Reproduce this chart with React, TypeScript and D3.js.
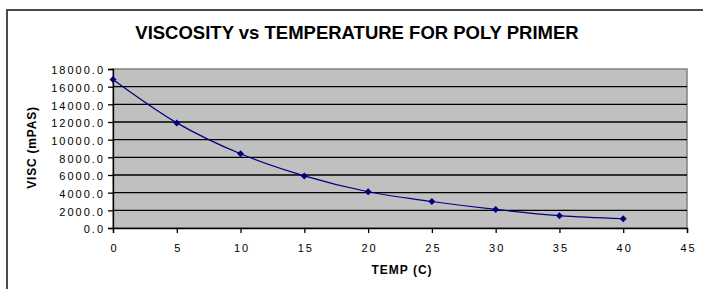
import { useEffect, useRef } from 'react';
import * as d3 from 'd3';

// data
const temps = [0, 5, 10, 15, 20, 25, 30, 35, 40];
const viscosity = [16800, 11900, 8400, 5900, 4100, 3000, 2100, 1400, 1050];
const xTicks = [0, 5, 10, 15, 20, 25, 30, 35, 40, 45];
const yTicks = [0, 2000, 4000, 6000, 8000, 10000, 12000, 14000, 16000, 18000];

const W = 703;
const H = 289;

export default function App() {
  const svgRef = useRef<SVGSVGElement | null>(null);

  useEffect(() => {
    if (!svgRef.current) return;
    const svg = d3.select(svgRef.current);
    svg.selectAll('*').remove();

    const margin = { top: 69, right: 16, bottom: 61, left: 113 };
    const x = d3.scaleLinear().domain([0, 45]).range([margin.left, W - margin.right]);
    const y = d3.scaleLinear().domain([0, 18000]).range([H - margin.bottom, margin.top]);
    const font = 'Arial, "Liberation Sans", sans-serif';

    svg.append('rect').attr('width', W).attr('height', H).attr('fill', '#fff');

    // outer chart border (runs off right and bottom)
    svg.append('path')
      .attr('d', `M7,${H + 5} L7,10 L${W + 5},10`)
      .attr('fill', 'none')
      .attr('stroke', '#4a4a4a')
      .attr('stroke-width', 2);

    // plot area
    svg.append('rect')
      .attr('x', x(0)).attr('y', y(18000))
      .attr('width', x(45) - x(0)).attr('height', y(0) - y(18000))
      .attr('fill', '#c0c0c0')
      .attr('stroke', '#808080')
      .attr('stroke-width', 1.5);

    // gridlines
    svg.append('g').selectAll('line')
      .data(yTicks.filter(d => d > 0 && d < 18000))
      .join('line')
      .attr('x1', x(0)).attr('x2', x(45))
      .attr('y1', d => y(d)).attr('y2', d => y(d))
      .attr('stroke', '#000').attr('stroke-width', 1.3);

    // axes
    const yAxis = svg.append('g')
      .attr('transform', `translate(${x(0)},0)`)
      .call(d3.axisLeft(y).tickValues(yTicks).tickSize(5).tickPadding(3).tickFormat(d => d3.format('.1f')(d as number)));
    const xAxis = svg.append('g')
      .attr('transform', `translate(0,${y(0)})`)
      .call(d3.axisBottom(x).tickValues(xTicks).tickSize(5).tickPadding(11).tickFormat(d => String(d)));

    [yAxis, xAxis].forEach(a => {
      a.select('.domain').attr('stroke', '#000').attr('stroke-width', 1.3);
      a.selectAll('.tick line').attr('stroke', '#000').attr('stroke-width', 1.3);
      a.selectAll('.tick text')
        .attr('fill', '#000')
        .attr('font-family', font)
        .attr('font-size', 11)
        .attr('letter-spacing', 2);
    });
    yAxis.selectAll('.tick text').attr('dy', '0.45em');
    xAxis.selectAll('.tick text').attr('dx', 1);

    // smoothed line
    const pts = temps.map((t, i) => [t, viscosity[i]] as [number, number]);
    const line = d3.line<[number, number]>()
      .x(d => x(d[0]))
      .y(d => y(d[1]))
      .curve(d3.curveCatmullRom.alpha(0.5));
    svg.append('path')
      .attr('d', line(pts))
      .attr('fill', 'none')
      .attr('stroke', '#000080')
      .attr('stroke-width', 1.2);

    // diamond markers
    svg.append('g').selectAll('path')
      .data(pts)
      .join('path')
      .attr('transform', d => `translate(${x(d[0])},${y(d[1])})`)
      .attr('d', 'M0,-3.5L3.5,0L0,3.5L-3.5,0Z')
      .attr('fill', '#000080');

    // titles
    svg.append('text')
      .attr('x', 357).attr('y', 39)
      .attr('text-anchor', 'middle')
      .attr('font-family', font)
      .attr('font-weight', 'bold')
      .attr('font-size', 18.5)
      .attr('fill', '#000')
      .text('VISCOSITY vs TEMPERATURE FOR POLY PRIMER');

    svg.append('text')
      .attr('x', 402).attr('y', 274)
      .attr('text-anchor', 'middle')
      .attr('font-family', font)
      .attr('font-weight', 'bold')
      .attr('font-size', 12)
      .attr('letter-spacing', 1)
      .attr('fill', '#000')
      .text('TEMP (C)');

    svg.append('text')
      .attr('transform', `translate(36,${(y(0) + y(18000)) / 2 - 1}) rotate(-90)`)
      .attr('text-anchor', 'middle')
      .attr('font-family', font)
      .attr('font-weight', 'bold')
      .attr('font-size', 12)
      .attr('letter-spacing', 0.8)
      .attr('fill', '#000')
      .text('VISC (mPAS)');
  }, []);

  return (
    <div style={{ position: 'absolute', left: 0, top: 0 }}>
      <svg ref={svgRef} width={W} height={H} style={{ display: 'block' }} />
    </div>
  );
}
